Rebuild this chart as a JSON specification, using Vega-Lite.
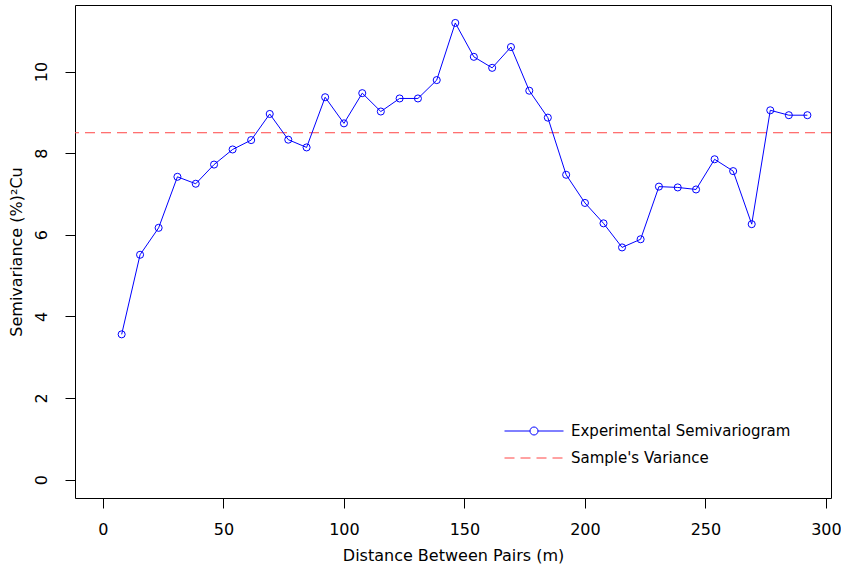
{
  "$schema": "https://vega.github.io/schema/vega-lite/v6.json",
  "width": 756,
  "height": 493,
  "autosize": {"type": "none"},
  "padding": {"left": 75, "top": 5, "right": 10, "bottom": 72},
  "background": "white",
  "config": {
    "view": {"stroke": "black", "strokeWidth": 1},
    "font": "DejaVu Sans",
    "axis": {
      "grid": false,
      "domain": false,
      "tickColor": "black",
      "tickSize": 10,
      "tickWidth": 1,
      "labelColor": "black",
      "labelFontSize": 16,
      "labelFont": "DejaVu Sans",
      "titleFont": "DejaVu Sans",
      "titleFontSize": 16,
      "titleFontWeight": "normal",
      "titleColor": "black"
    },
    "legend": {
      "labelFont": "DejaVu Sans",
      "labelFontSize": 15,
      "labelColor": "black",
      "labelLimit": 400,
      "padding": 0,
      "symbolOpacity": 1,
      "title": null
    }
  },
  "data": {
    "values": [
      {"d": 7.76, "g": 3.56},
      {"d": 15.4, "g": 5.51},
      {"d": 23.1, "g": 6.17},
      {"d": 30.9, "g": 7.42},
      {"d": 38.5, "g": 7.25},
      {"d": 46.1, "g": 7.72},
      {"d": 53.8, "g": 8.09},
      {"d": 61.5, "g": 8.32},
      {"d": 69.2, "g": 8.96},
      {"d": 76.9, "g": 8.33},
      {"d": 84.5, "g": 8.14},
      {"d": 92.2, "g": 9.37},
      {"d": 100.0, "g": 8.73},
      {"d": 107.6, "g": 9.47},
      {"d": 115.3, "g": 9.02},
      {"d": 123.1, "g": 9.34},
      {"d": 130.7, "g": 9.34},
      {"d": 138.5, "g": 9.79},
      {"d": 146.2, "g": 11.19},
      {"d": 153.9, "g": 10.36},
      {"d": 161.5, "g": 10.09},
      {"d": 169.3, "g": 10.60},
      {"d": 176.9, "g": 9.53},
      {"d": 184.6, "g": 8.87},
      {"d": 192.2, "g": 7.47},
      {"d": 200.0, "g": 6.78},
      {"d": 207.7, "g": 6.28},
      {"d": 215.4, "g": 5.69},
      {"d": 223.1, "g": 5.89},
      {"d": 230.7, "g": 7.18},
      {"d": 238.5, "g": 7.16},
      {"d": 246.1, "g": 7.11},
      {"d": 253.8, "g": 7.85},
      {"d": 261.5, "g": 7.56},
      {"d": 269.2, "g": 6.26},
      {"d": 276.9, "g": 9.05},
      {"d": 284.6, "g": 8.93},
      {"d": 292.3, "g": 8.93}
    ]
  },
  "layer": [
    {
      "data": {"values": [{"variance": 8.5}]},
      "mark": {"type": "rule", "color": "#ff4545", "strokeWidth": 1},
      "encoding": {
        "y": {"field": "variance", "type": "quantitative", "scale": {"domain": [-0.45, 11.63], "nice": false, "zero": false}},
        "strokeDash": {
          "datum": "Sample's Variance",
          "type": "nominal",
          "scale": {"range": [[10, 6]]},
          "legend": {
            "orient": "none",
            "legendX": 429,
            "legendY": 423,
            "symbolType": "stroke",
            "symbolSize": 3481,
            "symbolStrokeColor": "#ff4545",
            "symbolStrokeWidth": 1,
            "labelOffset": 7
          }
        }
      }
    },
    {
      "mark": {"type": "line", "strokeWidth": 1, "opacity": 1},
      "encoding": {
        "x": {"field": "d", "type": "quantitative", "scale": {"domain": [-11.6, 302.1], "nice": false, "zero": false},
              "axis": {"values": [0, 50, 100, 150, 200, 250, 300], "title": "Distance Between Pairs (m)", "labelPadding": 13, "titlePadding": 10}},
        "y": {"field": "g", "type": "quantitative", "scale": {"domain": [-0.45, 11.63], "nice": false, "zero": false},
              "axis": {"values": [0, 2, 4, 6, 8, 10], "title": "Semivariance (%)²Cu", "labelAngle": -90, "labelAlign": "center", "labelBaseline": "bottom", "labelPadding": 16, "titlePadding": 9}},
        "color": {
          "datum": "Experimental Semivariogram",
          "type": "nominal",
          "scale": {"range": ["#0000ff"]},
          "legend": {
            "orient": "none",
            "legendX": 429,
            "legendY": 396,
            "symbolType": "M-1,0L-0.136,0M0.136,0L1,0M-0.136,0A0.136,0.136 0 1,1 0.136,0A0.136,0.136 0 1,1 -0.136,0",
            "symbolSize": 3481,
            "symbolFillColor": "transparent",
            "symbolStrokeColor": "#0000ff",
            "symbolStrokeWidth": 1,
            "symbolOpacity": 1,
            "labelOffset": 7
          }
        }
      }
    },
    {
      "mark": {"type": "point", "shape": "circle", "filled": false, "size": 50, "strokeWidth": 1, "opacity": 1},
      "encoding": {
        "x": {"field": "d", "type": "quantitative"},
        "y": {"field": "g", "type": "quantitative"},
        "color": {"datum": "Experimental Semivariogram", "type": "nominal"}
      }
    }
  ]
}
